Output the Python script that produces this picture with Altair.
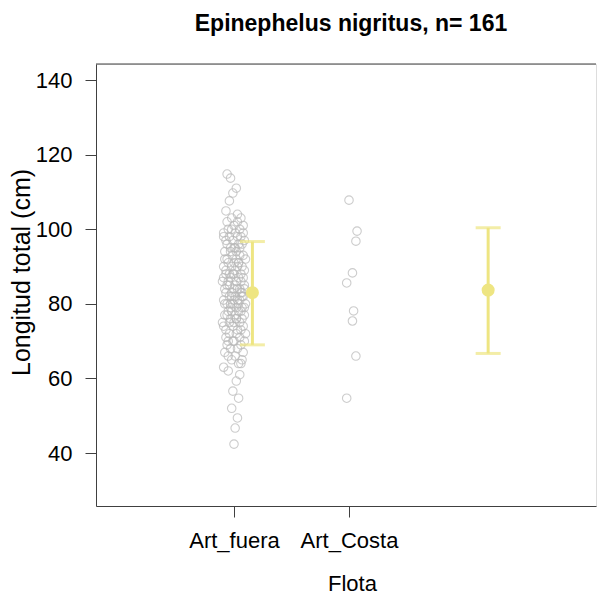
import altair as alt
import pandas as pd

# ---------------- data ----------------
groups = ["Art_fuera", "Art_Costa"]
group_pos = [1, 2]

fuera_lt = [114.8, 113.7, 111.0, 109.7, 107.6, 104.9, 104.0,
            42.4, 46.7, 49.4, 52.0, 54.7, 56.6, 59.3, 61.0, 62.0, 64.0,
            63, 64, 65, 65, 66, 66, 67, 67, 68, 68, 69, 69, 70, 70, 70, 71, 71,
            72, 72, 72, 73, 73, 73, 74, 74, 74, 75, 75, 75, 75, 76, 76, 76,
            77, 77, 77, 77, 78, 78, 78, 78, 79, 79, 79, 79, 80, 80, 80, 80, 80,
            81, 81, 81, 81, 82, 82, 82, 82, 83, 83, 83, 83, 84, 84, 84, 84,
            85, 85, 85, 85, 86, 86, 86, 86, 87, 87, 87, 87, 88, 88, 88, 88,
            89, 89, 89, 90, 90, 90, 90, 91, 91, 91, 92, 92, 92, 92, 93, 93, 93,
            94, 94, 94, 95, 95, 95, 96, 96, 96, 97, 97, 97, 98, 98, 98, 99, 99, 99,
            100, 100, 100, 101, 101, 102, 102, 103, 103,
            98, 95, 91, 88, 84, 80, 76, 70, 82]

fuera_jit = [-6, -3, 2, -1, -4, -7, 3,
             0, 1, 3, -2, 4, -1, 2, 5, -5, 6,
             -9, 4, -2, 7, -5, 1, 8, -8, 3, -3, 6, -6, 0, 9, -1, 5, -7, 2, -4, 10,
             3, -7, 6, -1, -9, 8, 0, -4, 5, -10, 2, 7, -3, 9, -6, 1, -8, 4, -2, 6,
             -5, 9, -3, 2, 7, -8, 4, -1, -6, 10, 0, -9, 5, 3, -4, 8, -2, 1, -7, 6,
             7, -2, -8, 5, 0, 3, -6, 9, -4, 1, -10, 6, 2, -5, 8, -3, 4, -9, 0, -1,
             -4, 6, 1, -7, 9, -2, 3, -9, 7, 0, -5, 4, -8, 2, 10, -6, 5, -1, 8, -3,
             2, -8, 5, 0, -3, 7, -6, 4, -1, 9, -7, 3, 6, -4, 1, -9, 8, -2, 5, -5,
             0, 8, -6, 3, -2, 6, -9, 1, 4, -7, 9, -3, 2, -5, 7]

costa_lt = [107.8, 99.5, 96.8, 88.3, 85.6, 78.1, 75.4, 66.0, 54.7]
costa_jit = [0, 7, 6, 3, -2, 4, 3, 6, -2]

summary_pos = [1.16, 3.21]
summary_mean = [83.0, 83.7]
summary_lo = [69.0, 66.7]
summary_hi = [96.7, 100.4]

y_ticks = [40, 60, 80, 100, 120, 140]

# ---------------- tables ----------------
pts = pd.DataFrame({
    "x": [group_pos[0] + j / 100 for j in fuera_jit] + [group_pos[1] + j / 100 for j in costa_jit],
    "y": fuera_lt + costa_lt,
})
summ = pd.DataFrame({"x": summary_pos, "m": summary_mean, "lo": summary_lo, "hi": summary_hi})

W, H = 500, 442
FONT = "Liberation Sans"
YEL = "#EEE582"
AX = "#404040"

label_expr = " : ".join(
    [f"datum.value == {p} ? '{g}'" for p, g in zip(group_pos, groups)]
) + " : ''"

xscale = alt.Scale(domain=[-0.2, 1 + (W - 138) / 115], nice=False, zero=False)
yscale = alt.Scale(domain=[25.8, 144.3], nice=False, zero=False)

xaxis = alt.Axis(values=group_pos, labelExpr=label_expr, title="Flota", grid=False,
                 tickSize=11, tickColor=AX, domainColor=AX, labelPadding=13,
                 labelFontSize=22, labelFont=FONT, labelColor="black",
                 titleFont=FONT, titleFontSize=22, titleFontWeight="normal",
                 titleColor="black", titleX=256, titleY=84, titleBaseline="alphabetic")
yaxis = alt.Axis(values=y_ticks, title="Longitud total (cm)", grid=False,
                 tickSize=11, tickColor=AX, domainColor=AX, labelPadding=13,
                 labelFontSize=22, labelFont=FONT, labelColor="black",
                 titleFont=FONT, titleFontSize=25, titleFontWeight="normal",
                 titleColor="black", titleX=-75, titleY=208, titleAngle=270,
                 titleAlign="center", titleBaseline="middle")

points = alt.Chart(pts).mark_point(shape="circle", filled=False, size=72,
                                   color="#B8B8B8", strokeWidth=1.1).encode(
    x=alt.X("x:Q", scale=xscale, axis=xaxis),
    y=alt.Y("y:Q", scale=yscale, axis=yaxis),
)

bars = alt.Chart(summ).mark_rule(color=YEL, strokeWidth=3).encode(
    x=alt.X("x:Q", scale=xscale), y=alt.Y("lo:Q", scale=yscale), y2="hi:Q")
cap_lo = alt.Chart(summ).mark_tick(color=YEL, orient="horizontal", size=25, thickness=3).encode(
    x=alt.X("x:Q", scale=xscale), y=alt.Y("lo:Q", scale=yscale))
cap_hi = alt.Chart(summ).mark_tick(color=YEL, orient="horizontal", size=25, thickness=3).encode(
    x=alt.X("x:Q", scale=xscale), y=alt.Y("hi:Q", scale=yscale))
dots = alt.Chart(summ).mark_point(shape="circle", filled=True, size=170, color=YEL, opacity=1).encode(
    x=alt.X("x:Q", scale=xscale), y=alt.Y("m:Q", scale=yscale))

top_line = alt.Chart(pd.DataFrame({"a": [0]})).mark_rule(color=AX, strokeWidth=1).encode(
    x=alt.value(0), x2=alt.value(W), y=alt.value(0))

chart = alt.layer(points, bars, cap_lo, cap_hi, dots, top_line).properties(
    width=W, height=H,
    title=alt.Title("Epinephelus nigritus, n= 161", font=FONT, fontSize=23, fontWeight="bold",
                    color="black", anchor="middle", baseline="alphabetic", offset=10, dx=5),
    padding={"left": 1, "top": 4, "right": 0, "bottom": 0},
).configure_view(stroke=None).configure(background="white")

chart.save("out.html", embed_options={"renderer": "svg", "actions": False})
